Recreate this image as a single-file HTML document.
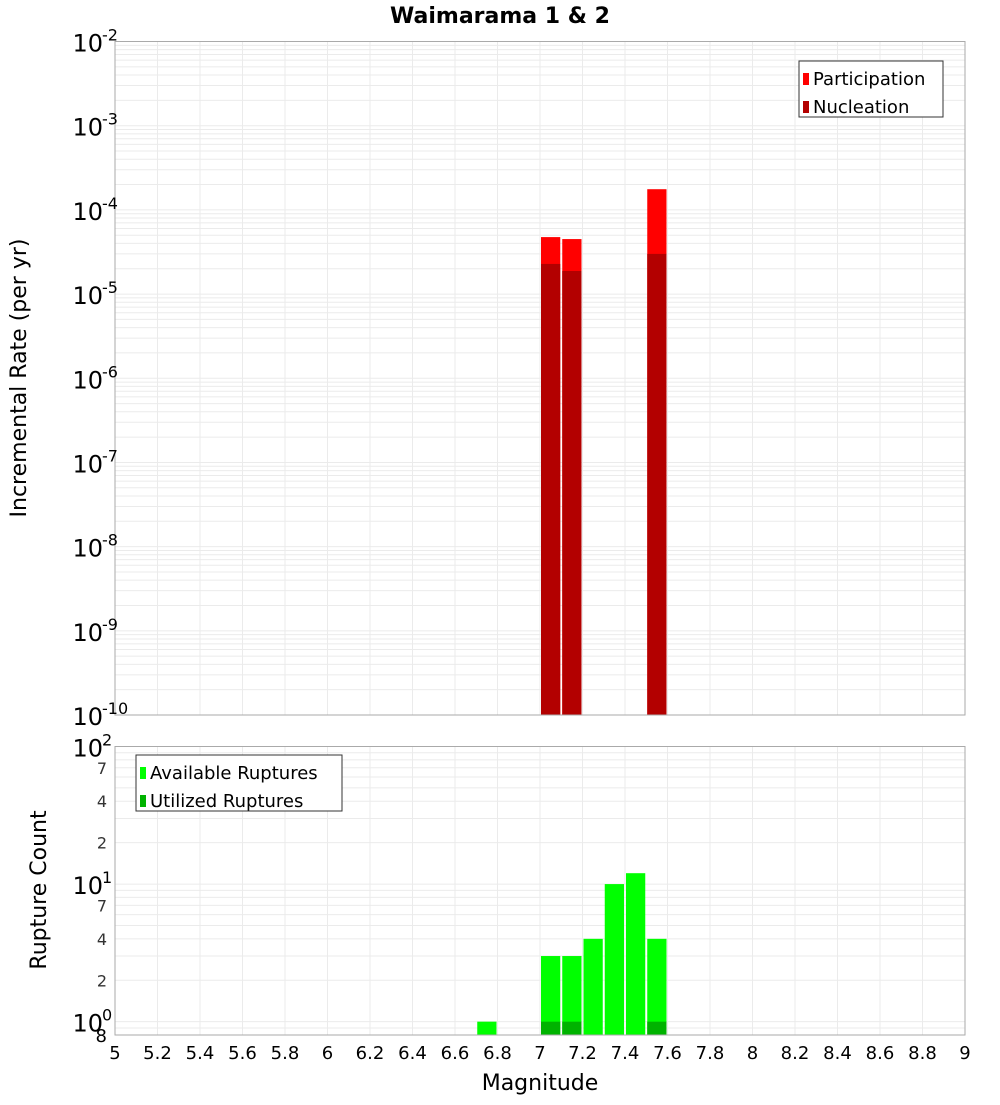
<!DOCTYPE html>
<html><head><meta charset="utf-8"><style>
body{margin:0;background:#fff;width:1000px;height:1100px;overflow:hidden}
svg{font-family:"DejaVu Sans","Liberation Sans",sans-serif}
</style></head><body>
<svg id="c" width="1000" height="1100" xmlns="http://www.w3.org/2000/svg">
<text x="500" y="23" text-anchor="middle" font-size="22" font-weight="bold">Waimarama 1 &amp; 2</text>
<text transform="translate(26,378) rotate(-90)" text-anchor="middle" font-size="22">Incremental Rate (per yr)</text>
<text transform="translate(46,890) rotate(-90)" text-anchor="middle" font-size="22">Rupture Count</text>
<text x="540" y="1090" text-anchor="middle" font-size="22">Magnitude</text>
<g id="top"></g><g id="bot"></g><g id="xt"></g>
</svg>
<script>
const bins = [6.75, 7.05, 7.15, 7.25, 7.35, 7.45, 7.55];
const participation = [0, 4.75e-5, 4.5e-5, 0, 0, 0, 1.76e-4];
const nucleation = [0, 2.28e-5, 1.88e-5, 0, 0, 0, 3.0e-5];
const available = [1, 3, 3, 4, 10, 12, 4];
const utilized = [0, 1, 1, 0, 0, 0, 1];
const xTicks = [5,5.2,5.4,5.6,5.8,6,6.2,6.4,6.6,6.8,7,7.2,7.4,7.6,7.8,8,8.2,8.4,8.6,8.8,9];
const topExps = [-10,-9,-8,-7,-6,-5,-4,-3,-2];
const botMinor = [2,4,7,20,40,70];

const NS="http://www.w3.org/2000/svg";
const L=115,R=965;
const x=v=>L+(v-5)/4*(R-L);
const T0=41.5,T1=715;
const yT=v=>T1-(Math.log10(v)+10)/8*(T1-T0);
const B0=746.5,B1=1035,bmin=0.8,bmax=100;
const yB=v=>B1-(Math.log10(v)-Math.log10(bmin))/(Math.log10(bmax)-Math.log10(bmin))*(B1-B0);
function el(p,tag,a,txt){const e=document.createElementNS(NS,tag);for(const k in a)e.setAttribute(k,a[k]);if(txt!=null)e.textContent=txt;p.appendChild(e);return e;}
const gTop=document.getElementById('top'),gBot=document.getElementById('bot'),gXt=document.getElementById('xt');
el(gTop,'rect',{x:L,y:T0,width:R-L,height:T1-T0,fill:'#fff'});
el(gBot,'rect',{x:L,y:B0,width:R-L,height:B1-B0,fill:'#fff'});
for(let e=-10;e<-2;e++)for(let m=1;m<10;m++){const yy=yT(m*Math.pow(10,e));el(gTop,'line',{x1:L,x2:R,y1:yy,y2:yy,stroke:'#ebebeb','stroke-width':1});}
[0.1,1,10].forEach(d=>{for(let m=1;m<10;m++){const v=m*d;if(v<bmin||v>bmax)continue;const yy=yB(v);el(gBot,'line',{x1:L,x2:R,y1:yy,y2:yy,stroke:'#ebebeb','stroke-width':1});}});
xTicks.forEach(t=>{const xx=x(t);el(gTop,'line',{x1:xx,x2:xx,y1:T0,y2:T1,stroke:'#ebebeb'});el(gBot,'line',{x1:xx,x2:xx,y1:B0,y2:B1,stroke:'#ebebeb'});
 const lab=el(gXt,'text',{x:xx,y:1059,'text-anchor':'middle','font-size':18},String(t));
 
 });
bins.forEach((b,i)=>{const x0=x(b-0.05)+1,w=x(b+0.05)-x(b-0.05)-2;
 if(participation[i]>0){const r=el(gTop,'rect',{x:x0,y:yT(participation[i]),width:w,height:T1-yT(participation[i]),fill:'#ff0000'});
  
  }
 if(nucleation[i]>0){const r=el(gTop,'rect',{x:x0,y:yT(nucleation[i]),width:w,height:T1-yT(nucleation[i]),fill:'#b30000'});
  
  }
 if(available[i]>0){const r=el(gBot,'rect',{x:x0,y:yB(available[i]),width:w,height:B1-yB(available[i]),fill:'#00ff00'});
  
  }
 if(utilized[i]>0){const r=el(gBot,'rect',{x:x0,y:yB(utilized[i]),width:w,height:B1-yB(utilized[i]),fill:'#00b300'});
  
  }
});
el(gTop,'rect',{x:L,y:T0,width:R-L,height:T1-T0,fill:'none',stroke:'#aaa'});
el(gBot,'rect',{x:L,y:B0,width:R-L,height:B1-B0,fill:'none',stroke:'#aaa'});
function pow(g,yy,e){const t=el(g,'text',{x:103,y:yy+10,'text-anchor':'end','font-size':24},'10');
 
 
 el(g,'text',{x:102,y:yy-1,'font-size':16},String(e));}
topExps.forEach(e=>pow(gTop,yT(Math.pow(10,e)),e));
[0,1,2].forEach(e=>pow(gBot,yB(Math.pow(10,e)),e));
botMinor.forEach(v=>{const t=el(gBot,'text',{x:107,y:yB(v)+6,'text-anchor':'end','font-size':16,fill:'#333'},String(v>=10?v/10:v));
 
 });
el(gBot,'text',{x:107,y:1042,'text-anchor':'end','font-size':18},'8');
function legend(g,x0,y0,w,items){const b=el(g,'rect',{x:x0,y:y0,width:w,height:56,fill:'#fff',stroke:'#333'});
 
 
 items.forEach((it,i)=>{const yy=y0+18+i*28;el(g,'rect',{x:x0+4,y:yy-6,width:6,height:12,fill:it[1]});
 const t=el(g,'text',{x:x0+14,y:yy+6,'font-size':18},it[0]);
 
 });}
legend(gTop,799,61,144,[['Participation','#ff0000'],['Nucleation','#b30000']]);
legend(gBot,136,755,206,[['Available Ruptures','#00ff00'],['Utilized Ruptures','#00b300']]);
</script>
</body></html>
